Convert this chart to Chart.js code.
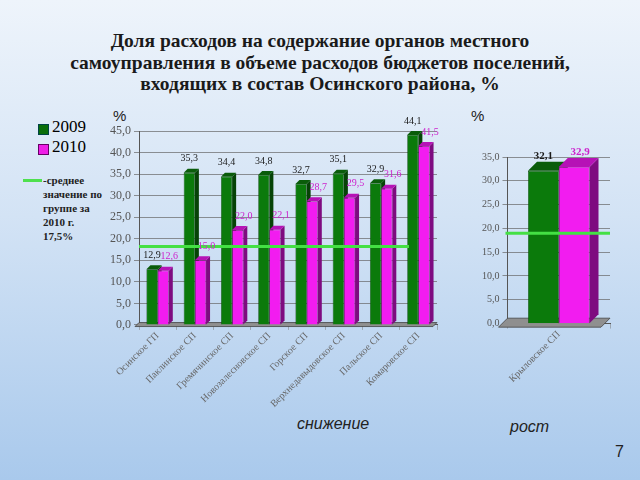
<!DOCTYPE html>
<html>
<head>
<meta charset="utf-8">
<script src="https://cdn.jsdelivr.net/npm/chart.js@4/dist/chart.umd.min.js"></script>
<style>
    html, body { margin: 0; padding: 0; }
    body {
        width: 640px; height: 480px; position: relative; overflow: hidden;
        background: linear-gradient(180deg, #eef4fb 0%, #d3e3f5 45%, #a9c9ec 100%);
        font-family: "Liberation Serif", "DejaVu Serif", serif;
    }
    #title {
        position: absolute; left: 0; top: 30px; width: 640px; text-align: center;
        font-weight: bold; font-size: 19.5px; line-height: 21.5px; color: #1a1a1a;
    }
    .abs { position: absolute; }
    .sq { width: 9px; height: 9px; }
    .note { font-family: "Liberation Sans", Arial, sans-serif; font-style: italic; font-size: 16px; color: #222; }
</style>
</head>
<body>
<div id="title">Доля расходов на содержание органов местного<br>самоуправления в объеме расходов бюджетов поселений,<br>входящих в состав Осинского района, %</div>

<div class="abs sq" style="left:38px;top:124px;background:#0a6e0a;border:1px solid #044;"></div>
<div class="abs" style="left:52px;top:117px;font-size:17px;font-family:'Liberation Serif',serif;">2009</div>
<div class="abs sq" style="left:38px;top:144px;background:#ee1ee6;border:1px solid #606;"></div>
<div class="abs" style="left:52px;top:137px;font-size:17px;font-family:'Liberation Serif',serif;">2010</div>
<div class="abs" style="left:23px;top:179px;width:19px;height:3px;background:#4ee04e;"></div>
<div class="abs" style="left:43px;top:173px;font-size:11px;font-weight:bold;line-height:14px;color:#222;">-среднее<br>значение по<br>группе за<br>2010 г.<br>17,5%</div>

<div class="abs" style="left:113px;top:107px;font-size:15px;font-family:'Liberation Sans',sans-serif;color:#222;">%</div>
<div class="abs" style="left:471px;top:107px;font-size:15px;font-family:'Liberation Sans',sans-serif;color:#222;">%</div>

<div class="abs" style="left:107px;top:110px;width:338px;height:300px;"><canvas id="left"></canvas></div>
<div class="abs" style="left:479px;top:143px;width:139px;height:242px;"><canvas id="right"></canvas></div>

<div class="abs note" style="left:297px;top:415px;">снижение</div>
<div class="abs note" style="left:510px;top:418px;">рост</div>
<div class="abs" style="left:615px;top:443px;font-size:16px;font-family:'Liberation Sans',sans-serif;color:#222;">7</div>

<script>
// данные: поселения со снижением доли
const leftLabels = ['Осинское ГП', 'Паклинское СП', 'Гремячинское СП', 'Новозалесновское СП',
    'Горское СП', 'Верхнедавыдовское СП', 'Пальское СП', 'Комаровское СП'];
const left2009 = [12.9, 35.3, 34.4, 34.8, 32.7, 35.1, 32.9, 44.1];
const left2010 = [12.6, 15.0, 22.0, 22.1, 28.7, 29.5, 31.6, 41.5];
const leftAvg = 18.2;

// поселения с ростом доли
const rightLabels = ['Крыловское СП'];
const right2009 = [32.1];
const right2010 = [32.9];
const rightAvg = 19.0;

const leftTicks = { min: 0, max: 45, step: 5 };
const rightTicks = { min: 0, max: 35, step: 5 };

const GREEN = '#0b7a0b', GREEN_DARK = '#064306', GREEN_TOP = '#0a5c0a';
const PINK = '#f21cf0', PINK_DARK = '#7e0b80', PINK_TOP = '#b612b6';

function fmt(v) {
    return v.toFixed(1).replace('.', ',');
}

// рисуем боковые и верхние грани столбиков (псевдо-3D)
function bars3d(depth) {
    return {
        id: 'bars3d',
        beforeDatasetsDraw(chart) {
            const ctx = chart.ctx;
            const area = chart.chartArea;
            ctx.save();
            // пол
            ctx.fillStyle = '#8f8f8f';
            ctx.strokeStyle = '#444';
            ctx.lineWidth = 0.8;
            ctx.beginPath();
            ctx.moveTo(area.left - depth, area.bottom + depth * 0.4);
            ctx.lineTo(area.left, area.bottom - depth * 0.6);
            ctx.lineTo(area.right, area.bottom - depth * 0.6);
            ctx.lineTo(area.right - depth, area.bottom + depth * 0.4);
            ctx.closePath();
            ctx.fill();
            ctx.stroke();
            const sideCols = [GREEN_DARK, PINK_DARK];
            const topCols = [GREEN_TOP, PINK_TOP];
            chart.data.datasets.forEach((ds, i) => {
                chart.getDatasetMeta(i).data.forEach(bar => {
                    const x0 = bar.x - bar.width / 2, x1 = bar.x + bar.width / 2;
                    ctx.fillStyle = sideCols[i];
                    ctx.beginPath();
                    ctx.moveTo(x1, bar.y);
                    ctx.lineTo(x1 + depth, bar.y - depth);
                    ctx.lineTo(x1 + depth, bar.base - depth);
                    ctx.lineTo(x1, bar.base);
                    ctx.closePath();
                    ctx.fill();
                    ctx.fillStyle = topCols[i];
                    ctx.beginPath();
                    ctx.moveTo(x0, bar.y);
                    ctx.lineTo(x0 + depth, bar.y - depth);
                    ctx.lineTo(x1 + depth, bar.y - depth);
                    ctx.lineTo(x1, bar.y);
                    ctx.closePath();
                    ctx.fill();
                });
            });
            ctx.restore();
        }
    };
}

// подписи значений и линия среднего
function extras(avg, lineFrom, lineTo, labelFont) {
    return {
        id: 'extras',
        afterDatasetsDraw(chart) {
            const ctx = chart.ctx;
            const area = chart.chartArea;
            const y = chart.scales.y.getPixelForValue(avg);
            ctx.save();
            ctx.strokeStyle = '#44e044';
            ctx.lineWidth = 3;
            ctx.beginPath();
            ctx.moveTo(area.left + lineFrom, y);
            ctx.lineTo(area.right + lineTo, y);
            ctx.stroke();

            ctx.font = labelFont;
            ctx.textAlign = 'center';
            ctx.textBaseline = 'bottom';
            const cols = ['#1a1a1a', '#cc22cc'];
            chart.data.datasets.forEach((ds, i) => {
                chart.getDatasetMeta(i).data.forEach((bar, j) => {
                    ctx.fillStyle = cols[i];
                    ctx.fillText(fmt(ds.data[j]), bar.x + (i === 1 ? 6 : 0), bar.y - 9);
                });
            });
            ctx.restore();
        }
    };
}

function makeChart(id, labels, d09, d10, ticks, depth, avg, lineFrom, lineTo, labelFont, catPct, padTop, tickSize) {
    return new Chart(document.getElementById(id).getContext('2d'), {
        type: 'bar',
        data: {
            labels: labels,
            datasets: [
                { label: '2009', data: d09, backgroundColor: GREEN, borderColor: '#053905', borderWidth: 0.6 },
                { label: '2010', data: d10, backgroundColor: PINK, borderColor: '#7a0a7a', borderWidth: 0.6 }
            ]
        },
        options: {
            responsive: true,
            maintainAspectRatio: false,
            animation: false,
            datasets: { bar: { categoryPercentage: catPct, barPercentage: 1.0 } },
            layout: { padding: { top: padTop, right: 8 } },
            plugins: { legend: { display: false }, tooltip: { enabled: false } },
            scales: {
                x: {
                    grid: { display: true, color: 'rgba(120,120,120,0.5)', drawOnChartArea: false, tickLength: 5 },
                    border: { color: '#555' },
                    ticks: {
                        color: '#666', maxRotation: 45, minRotation: 45, padding: 0,
                        font: { family: 'Liberation Serif', size: 10 }
                    }
                },
                y: {
                    min: ticks.min, max: ticks.max,
                    grid: { color: '#666', lineWidth: 0.7, tickLength: 5 },
                    border: { color: '#555' },
                    ticks: {
                        stepSize: ticks.step, color: '#555',
                        font: { family: 'Liberation Serif', size: tickSize },
                        callback: v => fmt(v)
                    }
                }
            }
        },
        plugins: [bars3d(depth), extras(avg, lineFrom, lineTo, labelFont)]
    });
}

makeChart('left', leftLabels, left2009, left2010, leftTicks, 4, leftAvg, 0, -28,
    '10px "Liberation Serif"', 0.6, 21, 12);
makeChart('right', rightLabels, right2009, right2010, rightTicks, 9, rightAvg, -2, 0,
    'bold 11px "Liberation Serif"', 0.6, 14, 10);
</script>
</body>
</html>
